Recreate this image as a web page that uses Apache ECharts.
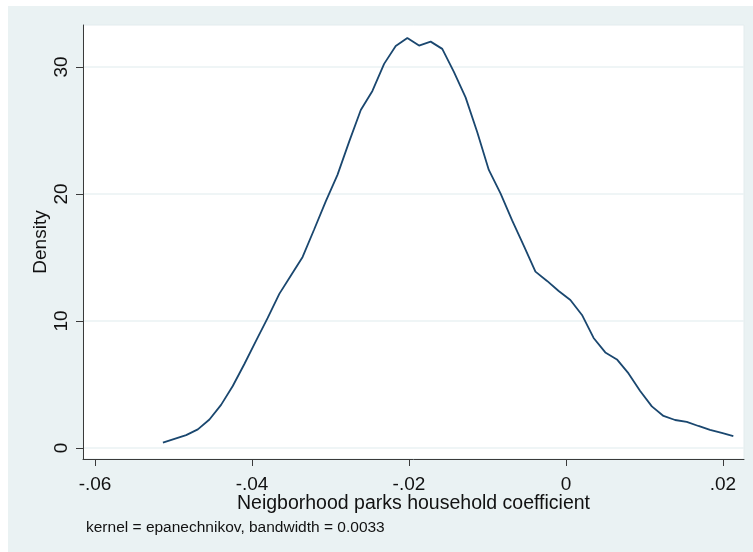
<!DOCTYPE html>
<html>
<head>
<meta charset="utf-8">
<script src="https://cdn.jsdelivr.net/npm/echarts@6/dist/echarts.min.js"></script>
<style>
  html, body { margin: 0; padding: 0; background: #ffffff; }
  #frame { position: absolute; left: 8px; top: 6px; width: 745px; height: 546px; background: #EAF2F3; }
  #chart { width: 745px; height: 546px; }
</style>
</head>
<body>
<div id="frame"><div id="chart"></div></div>
<script>
// Kernel density estimate evaluated on a 50-point grid
const gridPoints = [
  -0.05135, -0.04987, -0.04839, -0.04690, -0.04542, -0.04394, -0.04245, -0.04097, -0.03949, -0.03800,
  -0.03652, -0.03504, -0.03355, -0.03207, -0.03059, -0.02911, -0.02762, -0.02614, -0.02466, -0.02317,
  -0.02169, -0.02021, -0.01872, -0.01724, -0.01576, -0.01428, -0.01279, -0.01131, -0.00983, -0.00834,
  -0.00686, -0.00538, -0.00389, -0.00241, -0.00093, 0.00056, 0.00204, 0.00352, 0.00501, 0.00649,
  0.00797, 0.00945, 0.01094, 0.01242, 0.01390, 0.01539, 0.01687, 0.01835, 0.01984, 0.02132
];
const density = [
  0.42, 0.72, 1.01, 1.46, 2.24, 3.39, 4.88, 6.61, 8.43, 10.24,
  12.13, 13.58, 15.04, 17.22, 19.43, 21.50, 24.12, 26.61, 28.11, 30.24,
  31.65, 32.28, 31.68, 31.99, 31.42, 29.61, 27.60, 24.88, 21.89, 20.04,
  17.91, 15.93, 13.88, 13.15, 12.36, 11.65, 10.47, 8.66, 7.52, 6.97,
  5.87, 4.49, 3.27, 2.52, 2.20, 2.05, 1.73, 1.42, 1.18, 0.94
];
const xTicks = [-0.06, -0.04, -0.02, 0, 0.02];
const yTicks = [0, 10, 20, 30];
const xTitle = 'Neigborhood parks household coefficient';
const yTitle = 'Density';
const note = 'kernel = epanechnikov, bandwidth = 0.0033';

function fmtX(v) {
  if (Math.abs(v) < 1e-12) return '0';
  const s = v.toFixed(2);
  return s.replace(/^(-?)0\./, '$1.');
}

const chart = echarts.init(document.getElementById('chart'), null, { renderer: 'canvas' });
const font = 'Liberation Sans, Arial, sans-serif';

chart.setOption({
  animation: false,
  backgroundColor: 'transparent',
  grid: {
    left: 75, top: 19, right: 9, bottom: 93,
    show: true, backgroundColor: '#ffffff', borderColor: '#E3ECEE', borderWidth: 1
  },
  xAxis: {
    type: 'value',
    min: -0.06153, max: 0.02268,
    name: xTitle,
    nameLocation: 'middle',
    nameGap: 35,
    nameMoveOverlap: false,
    nameTextStyle: { fontFamily: font, fontSize: 19.5, color: '#111' },
    axisLine: { show: true, onZero: false, lineStyle: { color: '#3a3a3a', width: 1 } },
    axisTick: { show: true, length: 7, customValues: xTicks, lineStyle: { color: '#3a3a3a' } },
    axisLabel: { customValues: xTicks, margin: 16, fontFamily: font, fontSize: 19, color: '#111', formatter: fmtX },
    splitLine: { show: false }
  },
  yAxis: {
    type: 'value',
    min: -0.87, max: 33.3,
    name: yTitle,
    nameLocation: 'middle',
    nameGap: 33,
    nameMoveOverlap: false,
    nameRotate: 90,
    nameTextStyle: { fontFamily: font, fontSize: 19, color: '#111' },
    axisLine: { show: true, onZero: false, lineStyle: { color: '#3a3a3a', width: 1 } },
    axisTick: { show: true, length: 7, customValues: yTicks, lineStyle: { color: '#3a3a3a' } },
    axisLabel: { customValues: yTicks, rotate: 90, margin: 12, fontFamily: font, fontSize: 19, color: '#111' },
    splitLine: { show: true, lineStyle: { color: '#EAF2F3', width: 1.5 } }
  },
  graphic: [{
    type: 'text',
    left: 78, top: 514,
    style: { text: note, fontFamily: font, fontSize: 15.5, fill: '#111' }
  }],
  series: [{
    type: 'line',
    data: gridPoints.map((x, i) => [x, density[i]]),
    showSymbol: false,
    smooth: false,
    lineStyle: { color: '#1A476F', width: 1.8 }
  }]
});
</script>
</body>
</html>
